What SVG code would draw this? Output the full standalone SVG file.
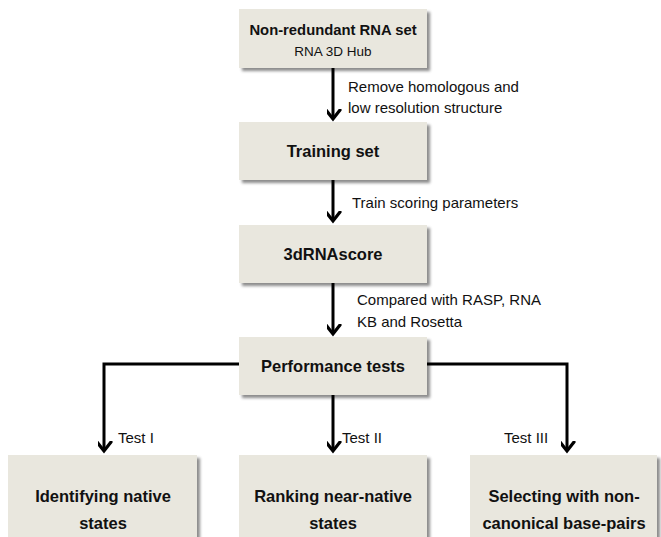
<svg xmlns="http://www.w3.org/2000/svg" width="661" height="537" viewBox="0 0 661 537">
<defs>
<filter id="sh" x="-10%" y="-10%" width="130%" height="140%">
<feDropShadow dx="3" dy="3" stdDeviation="1.5" flood-color="#000" flood-opacity="0.45"/>
</filter>
<marker id="ah" markerUnits="userSpaceOnUse" markerWidth="20" markerHeight="20" viewBox="-10 -14 20 20" refX="0" refY="0" orient="auto-start-reverse">
<path d="M-7,-9 L0,0 L7,-9" fill="none" stroke="#000" stroke-width="3.2" stroke-linecap="round" stroke-linejoin="miter" transform="rotate(-90)"/>
</marker>
<style>
.box{fill:#e9e7de;filter:url(#sh);}
.t{font-family:"Liberation Sans",Arial,sans-serif;font-weight:bold;font-size:16.5px;fill:#111;text-anchor:middle;}
.s{font-family:"Liberation Sans",Arial,sans-serif;font-size:13.5px;fill:#111;text-anchor:middle;}
.l{font-family:"Liberation Sans",Arial,sans-serif;font-size:15px;fill:#111;}
.c{fill:none;stroke:#000;stroke-width:3;}
</style>
</defs>
<g id="connectors">
<line class="c" x1="333" y1="68" x2="333" y2="119" marker-end="url(#ah)"/>
<line class="c" x1="333" y1="180" x2="333" y2="221" marker-end="url(#ah)"/>
<line class="c" x1="333" y1="283" x2="333" y2="334" marker-end="url(#ah)"/>
<polyline class="c" points="239,364 104,364 104,451" marker-end="url(#ah)"/>
<line class="c" x1="333" y1="395" x2="333" y2="451" marker-end="url(#ah)"/>
<polyline class="c" points="427,364 567,364 567,451" marker-end="url(#ah)"/>
<text class="l" x="348" y="92">Remove homologous and</text>
<text class="l" x="348" y="113">low resolution structure</text>
<text class="l" x="352" y="208">Train scoring parameters</text>
<text class="l" x="357" y="305">Compared with RASP, RNA</text>
<text class="l" x="357" y="327">KB and Rosetta</text>
<text class="l" x="118" y="443">Test I</text>
<text class="l" x="342" y="443">Test II</text>
<text class="l" x="504" y="443">Test III</text>
</g>
<g id="n1"><rect class="box" x="239" y="9" width="188" height="59"/>
<text class="t" x="333" y="35" style="font-size:14.8px">Non-redundant RNA set</text>
<text class="s" x="333" y="56">RNA 3D Hub</text></g>
<g id="n2"><rect class="box" x="239" y="122" width="188" height="58"/>
<text class="t" x="333" y="157">Training set</text></g>
<g id="n3"><rect class="box" x="239" y="225" width="188" height="58"/>
<text class="t" x="333" y="260">3dRNAscore</text></g>
<g id="n4"><rect class="box" x="239" y="337" width="188" height="58"/>
<text class="t" x="333" y="372">Performance tests</text></g>
<g id="n5"><rect class="box" x="8" y="455" width="189" height="90"/>
<text class="t" x="103" y="502">Identifying native</text>
<text class="t" x="103" y="529">states</text></g>
<g id="n6"><rect class="box" x="239" y="455" width="188" height="90"/>
<text class="t" x="333" y="502">Ranking near-native</text>
<text class="t" x="333" y="529">states</text></g>
<g id="n7"><rect class="box" x="470" y="455" width="187" height="90"/>
<text class="t" x="564" y="502">Selecting with non-</text>
<text class="t" x="564" y="529">canonical base-pairs</text></g>
</svg>
